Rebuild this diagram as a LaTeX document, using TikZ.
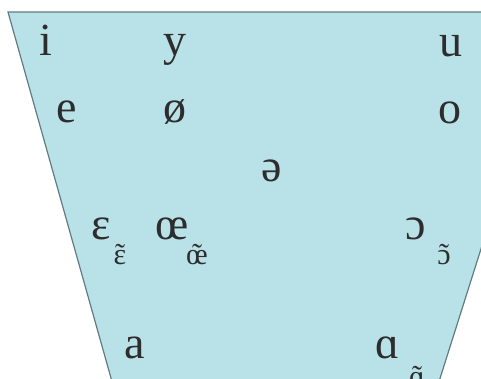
\documentclass[tikz,border=0pt]{standalone}
\usepackage{fontspec}
\newfontfamily\ipafont{Liberation Serif}
\definecolor{chartfill}{RGB}{185,226,232}
\definecolor{chartedge}{RGB}{96,124,128}
\definecolor{vowelink}{RGB}{45,45,45}
% tilde set over a vowel
\newcommand{\nasalvowel}[1]{\ooalign{#1\cr\hidewidth ˜\hidewidth\cr}}

\begin{document}
\begin{tikzpicture}[
    x=1pt, y=-1pt,
    vowel/.style = {font=\ipafont\fontsize{46}{46}\selectfont, text=vowelink, inner sep=0pt, anchor=base},
    nasal/.style = {font=\ipafont\fontsize{30}{30}\selectfont, text=vowelink, inner sep=0pt, anchor=base}
]
    \useasboundingbox (0,0) rectangle (481,379);
    \clip (0,0) rectangle (481,379);

    % Chart
    \fill [chartfill] (8,12) -- (556,12) -- (430,410) -- (120,410) -- cycle;
    \draw [chartedge, line width=1.2pt] (120,410) -- (8,12) -- (556,12) -- (430,410);

    % Close
    \node [vowel] (i) at (46,56) {i};
    \node [vowel] (y) at (175,56) {y};
    \node [vowel] (u) at (451,57) {u};

    % Close-mid
    \node [vowel] (e) at (67,123) {e};
    \node [vowel] (oslash) at (175,123) {ø};
    \node [vowel] (o) at (450,124) {o};

    % Mid
    \node [vowel] (schwa) at (272,182) {ə};

    % Open-mid
    \node [vowel] (epsilon) at (101,239) {ɛ};
    \node [vowel] (oe) at (172,239) {œ};
    \node [vowel] (openo) at (416,239) {ɔ};
    \node [nasal] (epsilonnas) at (120,264) {\nasalvowel{ɛ}};
    \node [nasal] (oenas) at (197,264) {\nasalvowel{œ}};
    \node [nasal] (openonas) at (444,264) {\nasalvowel{ɔ}};

    % Open
    \node [vowel] (a) at (135,358) {a};
    \node [vowel] (alpha) at (388,358) {ɑ};
    \node [nasal] (alphanas) at (417,386) {\nasalvowel{ɑ}};
\end{tikzpicture}
\end{document}
